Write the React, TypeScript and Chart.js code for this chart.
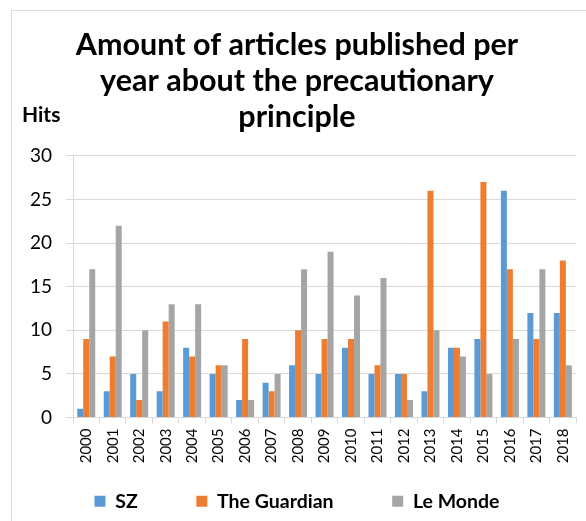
import React, { useEffect, useRef } from "react";
import { Chart, registerables } from "chart.js";

Chart.register(...registerables);

const years = ["2000","2001","2002","2003","2004","2005","2006","2007","2008","2009","2010","2011","2012","2013","2014","2015","2016","2017","2018"];
const sz = [1, 3, 5, 3, 8, 5, 2, 4, 6, 5, 8, 5, 5, 3, 8, 9, 26, 12, 12];
const guardian = [9, 7, 2, 11, 7, 6, 9, 3, 10, 9, 9, 6, 5, 26, 8, 27, 17, 9, 18];
const leMonde = [17, 22, 10, 13, 13, 6, 2, 5, 17, 19, 14, 16, 2, 10, 7, 5, 9, 17, 6];
const titleLines = ["Amount of articles published per", "year about the precautionary", "principle"];
const yAxisLabel = "Hits";

const FONT = "Lato, 'Open Sans', sans-serif";
const GRID = "#d9d9d9";
const LEGEND_GAP = "\u2003\u2003\u2003 ";

const hitsPlugin = {
  id: "hitsLabel",
  afterDraw(chart: any) {
    const { ctx, chartArea } = chart;
    ctx.save();
    ctx.font = `bold 21px ${FONT}`;
    ctx.fillStyle = "#000";
    ctx.textAlign = "left";
    ctx.textBaseline = "middle";
    ctx.fillText(yAxisLabel, chartArea.left - 51, chartArea.top - 41);
    ctx.restore();
  },
};

export default function App() {
  const ref = useRef<HTMLCanvasElement>(null);
  useEffect(() => {
    if (!ref.current) return;
    const chart = new Chart(ref.current, {
      type: "bar",
      data: {
        labels: years,
        datasets: [
          { label: "SZ", data: sz, backgroundColor: "#5B9BD5" },
          { label: "The Guardian", data: guardian, backgroundColor: "#ED7D31" },
          { label: "Le Monde", data: leMonde, backgroundColor: "#A5A5A5" },
        ],
      },
      options: {
        animation: false,
        responsive: false,
        devicePixelRatio: 1,
        layout: { padding: { left: 14, right: 6, top: 0, bottom: 0 } },
        datasets: { bar: { categoryPercentage: 0.68, barPercentage: 1 } },
        plugins: {
          title: {
            display: true,
            text: titleLines,
            color: "#000",
            font: { family: FONT, size: 30.5, weight: "bold", lineHeight: 1.18 },
            padding: { top: 27, bottom: 21 },
          },
          legend: {
            position: "bottom",
            labels: {
              color: "#000",
              font: { family: FONT, size: 19.5, weight: "bold" },
              boxWidth: 11,
              boxHeight: 11,
              padding: 10,
              generateLabels(chart: any) {
                const items = Chart.defaults.plugins.legend.labels.generateLabels(chart);
                return items.map((it: any, i: number) => ({
                  ...it,
                  text: i < items.length - 1 ? it.text + LEGEND_GAP : it.text,
                }));
              },
            },
          },
          tooltip: { enabled: false },
        },
        scales: {
          x: {
            grid: { drawOnChartArea: false, drawTicks: true, tickLength: 6, color: GRID, offset: true },
            border: { display: true, color: GRID },
            ticks: {
              minRotation: 90,
              maxRotation: 90,
              color: "#000",
              font: { family: FONT, size: 15 },
              padding: 5,
              autoSkip: false,
            },
            afterFit(scale: any) {
              scale.height = 64;
            },
          },
          y: {
            min: 0,
            max: 30,
            ticks: { stepSize: 5, color: "#000", font: { family: FONT, size: 19 }, padding: 14 },
            grid: { color: GRID, tickLength: 7 },
            border: { display: true, color: GRID },
            afterFit(scale: any) {
              scale.width = 59;
            },
          },
        },
      },
      plugins: [hitsPlugin],
    });
    return () => chart.destroy();
  }, []);
  return (
    <>
      <div
        style={{
          position: "fixed",
          left: 11,
          top: 10,
          width: 575,
          height: 511,
          borderTop: `1px solid ${GRID}`,
          borderLeft: `1px solid ${GRID}`,
          boxSizing: "border-box",
        }}
      />
      <canvas
        ref={ref}
        width={586}
        height={521}
        style={{ position: "fixed", left: 0, top: 0, width: 586, height: 521 }}
      />
    </>
  );
}
